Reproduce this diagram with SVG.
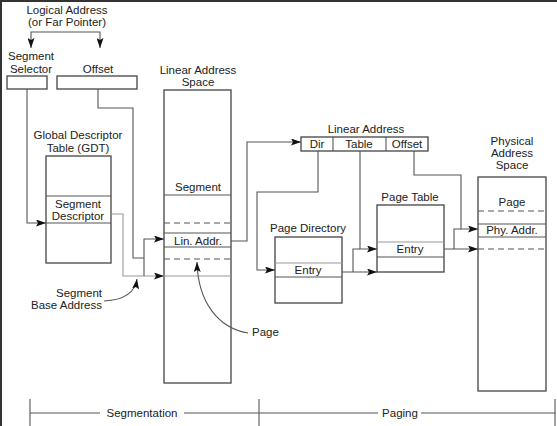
<svg xmlns="http://www.w3.org/2000/svg" width="557" height="426" viewBox="0 0 557 426">
<style>
text{font-family:"Liberation Sans",Arial,sans-serif;font-size:11.5px;fill:#222}
.c{text-anchor:middle}
.box{fill:#fff;stroke:#444;stroke-width:1.3}
.ln{fill:none;stroke:#555;stroke-width:1.1}
.lt{fill:none;stroke:#9a9a9a;stroke-width:1.1}
.dash{fill:none;stroke:#555;stroke-width:1.1;stroke-dasharray:6,4}
</style>
<defs>
<marker id="ah" markerUnits="userSpaceOnUse" markerWidth="11" markerHeight="7" refX="10" refY="3.5" orient="auto">
<path d="M0,0 L10,3.5 L0,7 L2,3.5 z" fill="#111"/>
</marker>
</defs>
<rect width="557" height="426" fill="#fff"/>
<line x1="0" y1="1" x2="557" y2="1" stroke="#333" stroke-width="2"/>
<line x1="1" y1="0" x2="1" y2="426" stroke="#333" stroke-width="2"/>

<g id="logical">
<text class="c" x="67" y="14">Logical Address</text>
<text class="c" x="67" y="26">(or Far Pointer)</text>
</g>
<g id="selector">
<text class="c" x="31" y="60">Segment</text>
<text class="c" x="31" y="73">Selector</text>
<rect class="box" x="7" y="76" width="40" height="13"/>
</g>
<g id="offset">
<text class="c" x="98" y="73">Offset</text>
<rect class="box" x="57" y="76" width="80" height="13"/>
</g>
<g id="gdt">
<text class="c" x="78" y="139">Global Descriptor</text>
<text class="c" x="78" y="152">Table (GDT)</text>
<rect class="box" x="46" y="156" width="65" height="107"/>
<line class="ln" x1="46" y1="196" x2="111" y2="196"/>
<line class="ln" x1="46" y1="223" x2="111" y2="223"/>
<text class="c" x="78" y="208">Segment</text>
<text class="c" x="78" y="220">Descriptor</text>
</g>
<g id="linear-space">
<text class="c" x="198" y="74">Linear Address</text>
<text class="c" x="198" y="86">Space</text>
<rect class="box" x="164" y="90" width="67" height="293"/>
<text class="c" x="198" y="191">Segment</text>
<line class="ln" x1="164" y1="195" x2="231" y2="195"/>
<line class="dash" x1="164" y1="223" x2="231" y2="223"/>
<line class="ln" x1="164" y1="233" x2="231" y2="233"/>
<text class="c" x="198" y="245">Lin. Addr.</text>
<line class="ln" x1="164" y1="247" x2="231" y2="247"/>
<line class="dash" x1="164" y1="259" x2="231" y2="259"/>
<line class="lt" x1="164" y1="276" x2="231" y2="276"/>
</g>
<g id="linear-address">
<text class="c" x="366" y="133">Linear Address</text>
<rect class="box" x="301" y="137" width="127" height="14"/>
<line class="ln" x1="333" y1="137" x2="333" y2="151"/>
<line class="ln" x1="386" y1="137" x2="386" y2="151"/>
<text class="c" x="317" y="148">Dir</text>
<text class="c" x="359" y="148">Table</text>
<text class="c" x="407" y="148">Offset</text>
</g>
<g id="page-directory">
<text class="c" x="308" y="232">Page Directory</text>
<rect class="box" x="275" y="237" width="67" height="66"/>
<line class="lt" x1="275" y1="263" x2="342" y2="263"/>
<line class="ln" x1="275" y1="277" x2="342" y2="277"/>
<text class="c" x="308" y="274">Entry</text>
</g>
<g id="page-table">
<text class="c" x="410" y="201">Page Table</text>
<rect class="box" x="377" y="205" width="67" height="67"/>
<line class="lt" x1="377" y1="242" x2="444" y2="242"/>
<line class="ln" x1="377" y1="257" x2="444" y2="257"/>
<text class="c" x="410" y="253">Entry</text>
</g>
<g id="physical">
<text class="c" x="512" y="145">Physical</text>
<text class="c" x="512" y="157">Address</text>
<text class="c" x="512" y="169">Space</text>
<rect class="box" x="478" y="177" width="68" height="214"/>
<text class="c" x="512" y="206">Page</text>
<line class="dash" x1="478" y1="211" x2="546" y2="211"/>
<line class="ln" x1="478" y1="224" x2="546" y2="224"/>
<text class="c" x="512" y="234">Phy. Addr.</text>
<line class="ln" x1="478" y1="237" x2="546" y2="237" stroke-width="1.6"/>
<line class="dash" x1="478" y1="249" x2="546" y2="249"/>
</g>
<g id="labels">
<text x="102" y="297" text-anchor="end">Segment</text>
<text x="102" y="309" text-anchor="end">Base Address</text>
<text x="252" y="336">Page</text>
</g>
<g id="timeline">
<line class="ln" x1="30" y1="399" x2="30" y2="426" stroke-width="1.5"/>
<line class="ln" x1="259" y1="399" x2="259" y2="426" stroke-width="1.5"/>
<line class="ln" x1="555" y1="399" x2="555" y2="426" stroke-width="1.5"/>
<line class="ln" x1="30" y1="413" x2="100" y2="413"/>
<line class="ln" x1="184" y1="413" x2="378" y2="413"/>
<line class="ln" x1="421" y1="413" x2="555" y2="413"/>
<text class="c" x="142" y="417">Segmentation</text>
<text class="c" x="400" y="417">Paging</text>
</g>
<g id="connectors">
<path class="ln" d="M66,32 H31 V48" marker-end="url(#ah)"/>
<path class="ln" d="M66,32 H100 V48" marker-end="url(#ah)"/>
<path class="ln" d="M27,89 V223 H46" marker-end="url(#ah)"/>
<path class="ln" d="M98,89 V108 H133 V258 H144"/>
<path class="lt" d="M111,214 H123 V276 H164" marker-end="url(#ah)"/>
<path class="ln" d="M144,276 V239 H164" marker-end="url(#ah)"/>
<path class="ln" d="M231,241 H247 V142 H301" marker-end="url(#ah)"/>
<path class="ln" d="M318,151 V192 H257 V270 H275" marker-end="url(#ah)"/>
<path class="ln" d="M360,151 V249 H377" marker-end="url(#ah)"/>
<path class="ln" d="M353,272 V249 H360"/>
<path class="ln" d="M342,272 H377" marker-end="url(#ah)"/>
<path class="ln" d="M414,151 V175 H461 V229 H478" marker-end="url(#ah)"/>
<path class="ln" d="M454,249 V229 H461"/>
<path class="ln" d="M444,249 H478" marker-end="url(#ah)"/>
<path class="ln" d="M104,301 C124,300 135,293 137,279" marker-end="url(#ah)"/>
<path class="ln" d="M248,333 C218,328 198,302 197,262" marker-end="url(#ah)"/>
</g>
</svg>
